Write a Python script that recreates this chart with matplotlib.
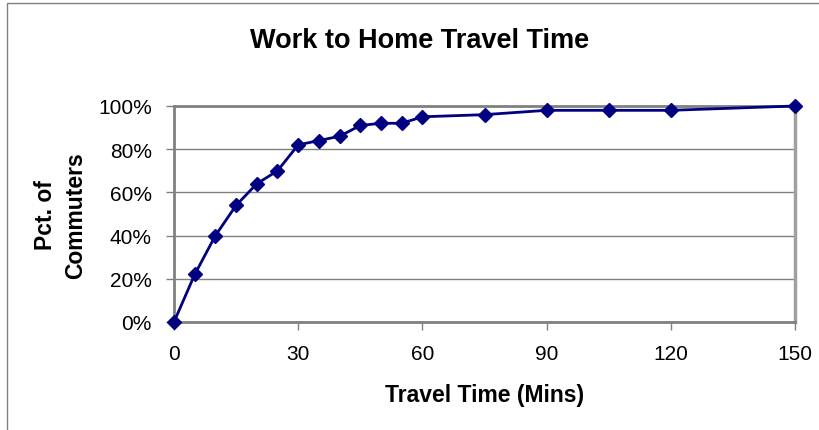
import matplotlib.pyplot as plt
from matplotlib.patches import Rectangle
from matplotlib.ticker import FuncFormatter

# cumulative share of commuters by travel time
minutes = [0, 5, 10, 15, 20, 25, 30, 35, 40, 45, 50, 55, 60, 75, 90, 105, 120, 150]
pct = [0, 22, 40, 54, 64, 70, 82, 84, 86, 91, 92, 92, 95, 96, 98, 98, 98, 100]
x_ticks = [0, 30, 60, 90, 120, 150]
y_ticks = [0, 20, 40, 60, 80, 100]

plt.rcParams['font.family'] = ['Liberation Sans', 'DejaVu Sans']

fig = plt.figure(figsize=(8.2, 4.31), dpi=100)
ax = fig.add_axes([174 / 820, 1 - 323 / 431, 621 / 820, 216 / 431])

# outer chart frame
fig.patches.append(Rectangle((7 / 820, -0.05), 1.0, 1 - 4 / 431 + 0.05,
                             transform=fig.transFigure, fill=False,
                             edgecolor='#808080', linewidth=1.0))

ax.plot(minutes, pct, color='#000080', linewidth=2, marker='D',
        markersize=7.5, markerfacecolor='#000080', markeredgecolor='#000080',
        clip_on=False, zorder=5)

ax.set_xlim(0, 150)
ax.set_ylim(0, 100)
ax.set_xticks(x_ticks)
ax.set_yticks(y_ticks)
ax.yaxis.set_major_formatter(FuncFormatter(lambda v, p: f"{v:.0f}%"))
ax.grid(axis='y', color='#808080', linewidth=1)
ax.set_axisbelow(True)

for side in ['left', 'bottom', 'top']:
    ax.spines[side].set_color('#808080')
    ax.spines[side].set_linewidth(2)
ax.spines['right'].set_color('#a0a0a0')
ax.spines['right'].set_linewidth(2.5)

ax.tick_params(axis='both', colors='#808080', labelcolor='black',
               labelsize=15, length=6, width=1)
ax.tick_params(axis='x', pad=10)
ax.tick_params(axis='y', pad=10)

fig.text(0.512, 0.904, "Work to Home Travel Time", ha='center', va='center',
         fontsize=19.5, fontweight='bold')
ax.set_xlabel("Travel Time (Mins)", fontsize=16.5, fontweight='bold', labelpad=14)
fig.text(0.074, 0.5, "Pct. of\nCommuters", ha='center', va='center',
         rotation=90, fontsize=16.5, fontweight='bold', linespacing=1.4)

fig.savefig("out.png", dpi=100)
